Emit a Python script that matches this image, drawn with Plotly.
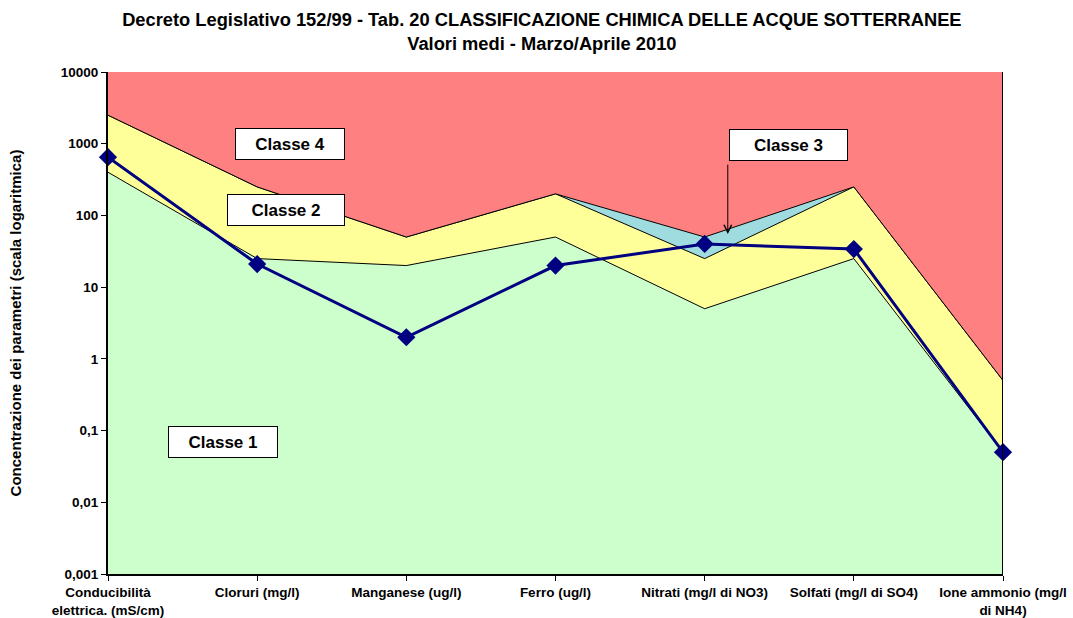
import numpy as np
import plotly.graph_objects as go

# categorie (parametri)
parametri = ['Conducibilità<br>elettrica. (mS/cm)', 'Cloruri (mg/l)', 'Manganese (ug/l)',
             'Ferro (ug/l)', 'Nitrati (mg/l di NO3)', 'Solfati (mg/l di SO4)',
             'Ione ammonio (mg/l<br>di NH4)']

# limiti delle classi (D.Lgs 152/99 tab. 20)
limite_classe1 = [400, 25, 20, 50, 5, 25, 0.05]
limite_classe2 = [2500, 250, 50, 200, 25, 250, 0.5]
limite_classe3 = [2500, 250, 50, 200, 50, 250, 0.5]
fondo = [0.001] * 7
cielo = [10000] * 7

# valori medi marzo/aprile 2010
valori_medi = [650, 21, 2, 20, 40, 34, 0.05]

y_ticks = [0.001, 0.01, 0.1, 1, 10, 100, 1000, 10000]
y_ticktext = ['0,001', '0,01', '0,1', '1', '10', '100', '1000', '10000']

FONT = 'Liberation Sans'
xs = list(range(len(parametri)))

fig = go.Figure()
fig.add_trace(go.Scatter(x=xs, y=fondo, mode='lines', line=dict(width=0), hoverinfo='skip'))
fig.add_trace(go.Scatter(x=xs, y=limite_classe1, mode='lines', fill='tonexty',
                         fillcolor='#CCFFCC', line=dict(color='black', width=1)))
fig.add_trace(go.Scatter(x=xs, y=limite_classe2, mode='lines', fill='tonexty',
                         fillcolor='#FFFF99', line=dict(color='black', width=1)))
fig.add_trace(go.Scatter(x=xs, y=limite_classe3, mode='lines', fill='tonexty',
                         fillcolor='#9FDCDF', line=dict(color='black', width=1)))
fig.add_trace(go.Scatter(x=xs, y=cielo, mode='lines', fill='tonexty',
                         fillcolor='#FF8080', line=dict(width=0)))
fig.add_trace(go.Scatter(x=xs, y=valori_medi, mode='lines+markers', cliponaxis=False,
                         line=dict(color='#000080', width=3),
                         marker=dict(symbol='diamond', size=14, color='#000080')))

# bordo destro
fig.add_shape(type='line', xref='x', yref='paper', x0=xs[-1], x1=xs[-1], y0=0, y1=1,
              line=dict(color='black', width=2))

def etichetta(testo, x, y, w=108):
    fig.add_annotation(x=x, y=np.log10(y), text=testo, showarrow=False,
                       bgcolor='white', bordercolor='black', borderwidth=1, borderpad=0,
                       width=w, height=30, font=dict(family=FONT, size=17, color='black', weight='bold'))

etichetta('Classe 4', 1.22, 1000)
etichetta('Classe 2', 1.19, 120, 116)
etichetta('Classe 1', 0.77, 0.069)
etichetta('Classe 3', 4.56, 960, 117)
fig.add_annotation(x=4.155, y=np.log10(55), text='', showarrow=True, ax=0, ay=-71,
                   arrowhead=5, arrowsize=1.5, arrowwidth=1, arrowcolor='black')

fig.update_layout(
    width=1073, height=618,
    margin=dict(l=108, r=70, t=72, b=44, autoexpand=False),
    paper_bgcolor='white', plot_bgcolor='white',
    showlegend=False,
    font=dict(family=FONT, color='black'),
    title=dict(text='Decreto Legislativo 152/99 - Tab. 20 CLASSIFICAZIONE CHIMICA DELLE ACQUE SOTTERRANEE<br>Valori medi - Marzo/Aprile 2010',
               x=0.505, xanchor='center', y=0.958, yanchor='middle', automargin=False,
               font=dict(family=FONT, size=18.3, color='black', weight='bold')),
)
fig.update_xaxes(tickvals=xs, ticktext=parametri, range=[0, 6], automargin=False,
                 showgrid=True, gridcolor='#222222', gridwidth=1,
                 showline=True, linecolor='black', linewidth=2,
                 ticks='outside', ticklen=5, tickcolor='black',
                 tickfont=dict(family=FONT, size=13.5, color='black', weight='bold'), zeroline=False)
fig.update_yaxes(type='log', range=[-3, 4], tickvals=y_ticks, ticktext=y_ticktext, automargin=False,
                 showgrid=False, showline=True, linecolor='black', linewidth=2,
                 ticks='outside', ticklen=5, tickcolor='black',
                 tickfont=dict(family=FONT, size=13.5, color='black', weight='bold'),
                 title=dict(text='Concentrazione dei parametri (scala logaritmica)', standoff=36,
                            font=dict(family=FONT, size=15, color='black', weight='bold')))

fig.write_html('out.html', config={'displayModeBar': False},
               post_script="document.body.style.margin='0';")
